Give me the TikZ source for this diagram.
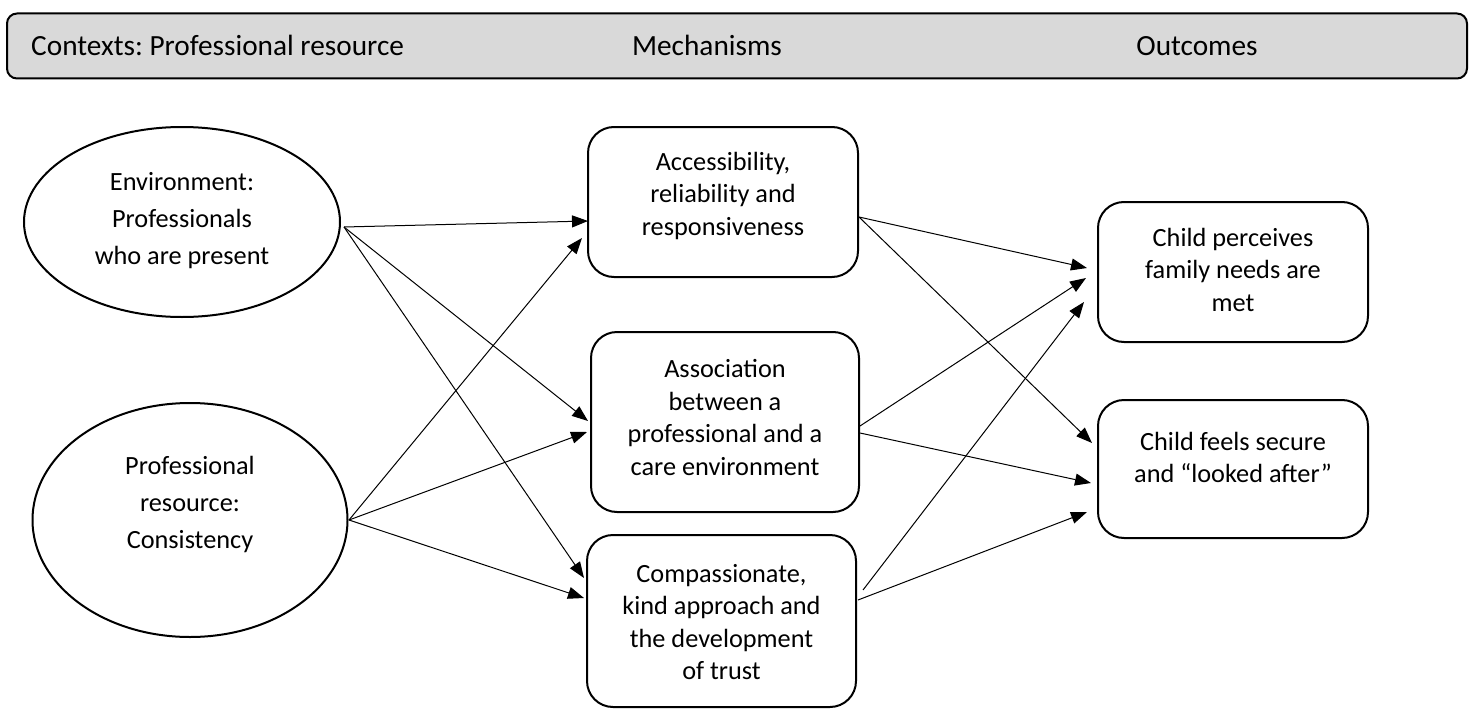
\documentclass[tikz,border=0pt]{standalone}
\usepackage{fontspec}
\setmainfont{Carlito}
\usetikzlibrary{arrows.meta,shapes.geometric,calc}
\definecolor{hdrgray}{HTML}{D9D9D9}
\frenchspacing
\begin{document}
\begin{tikzpicture}[x=1pt,y=-1pt,
  shapebox/.style={draw,line width=2pt,rounded corners=26pt,inner sep=0pt},
  oval/.style={draw,ellipse,line width=2pt,inner sep=0pt},
  txt/.style={align=center,font=\fontsize{26.3}{32.5}\selectfont,inner sep=0pt},
  ovtxt/.style={align=center,font=\fontsize{26.3}{37.3}\selectfont,inner sep=0pt},
  hdrtxt/.style={font=\fontsize{29.3}{35}\selectfont,inner sep=0pt,anchor=base},
  conn/.style={line width=1pt,-{Triangle[length=16pt,width=12pt]}}
]
\useasboundingbox (0,0) rectangle (1475,709);

% header bar
\node[draw,fill=hdrgray,rounded corners=10pt,line width=2pt,minimum width=1460pt,minimum height=65pt,inner sep=0pt] (hdr) at (737,46) {};
\node[hdrtxt,anchor=base west] (hctx) at (31,56) {Contexts: Professional resource};
\node[hdrtxt] (hmech) at (707,56) {Mechanisms};
\node[hdrtxt] (hout) at (1197,56) {Outcomes};

% contexts
\node[oval,minimum width=316pt,minimum height=190pt] (e1) at (182,222) {};
\node[ovtxt] (e1t) at (182,220.5) {Environment:\\Professionals\\who are present};
\node[oval,minimum width=315pt,minimum height=234pt] (e2) at (190,520) {};
\node[ovtxt] (e2t) at (190,504.5) {Professional\\resource:\\Consistency};

% mechanisms
\node[shapebox,minimum width=270pt,minimum height=150pt] (b1) at (723,202) {};
\node[txt] (b1t) at (723,195.5) {Accessibility,\\reliability and\\responsiveness};
\node[shapebox,minimum width=268pt,minimum height=180pt] (b2) at (725,422) {};
\node[txt] (b2t) at (725,417.5) {Association\\between a\\professional and a\\care environment};
\node[shapebox,minimum width=269pt,minimum height=172pt] (b3) at (721.5,621) {};
\node[txt] (b3t) at (721.5,622) {Compassionate,\\kind approach and\\the development\\of trust};

% outcomes
\node[shapebox,minimum width=270pt,minimum height=140pt] (oa) at (1233,272) {};
\node[txt] (oat) at (1233,269.5) {Child perceives\\family needs are\\met};
\node[shapebox,minimum width=270pt,minimum height=138pt] (ob) at (1233,469) {};
\node[txt] (obt) at (1233,457.5) {Child feels secure\\and “looked after”};

% connector end points
\coordinate (e1o) at ($(e1.east)+(3,5)$);
\coordinate (e2o) at ($(e2.east)+(0.5,0)$);
\coordinate (b1o) at ($(b1.east)+(0,15)$);
\coordinate (b2oa) at ($(b2.east)+(0,4)$);
\coordinate (b2ob) at ($(b2.east)+(0,11)$);
\coordinate (b3oa) at ($(b3.east)+(6,-31)$);
\coordinate (b3ob) at ($(b3.east)+(1,-21)$);
\coordinate (b1ia) at ($(b1.west)+(1,19)$);
\coordinate (b1ib) at ($(b1.west)+(-5,36)$);
\coordinate (b2ia) at ($(b2.west)+(-2,-1)$);
\coordinate (b2ib) at ($(b2.west)+(-3,10)$);
\coordinate (b3ia) at ($(b3.west)+(-2,-43)$);
\coordinate (b3ib) at ($(b3.west)+(-2,-23)$);
\coordinate (oaia) at ($(oa.west)+(-10,-4)$);
\coordinate (oaib) at ($(oa.west)+(-11,6)$);
\coordinate (oaic) at ($(oa.west)+(-13,30)$);
\coordinate (obia) at ($(ob.west)+(-5,-26)$);
\coordinate (obib) at ($(ob.west)+(-6,14)$);
\coordinate (obic) at ($(ob.west)+(-10,43)$);

% contexts -> mechanisms
\draw[conn] (e1o) -- (b1ia);
\draw[conn] (e1o) -- (b2ia);
\draw[conn] (e1o) -- (b3ia);
\draw[conn] (e2o) -- (b1ib);
\draw[conn] (e2o) -- (b2ib);
\draw[conn] (e2o) -- (b3ib);

% mechanisms -> outcomes
\draw[conn] (b1o) -- (oaia);
\draw[conn] (b1o) -- (obia);
\draw[conn] (b2oa) -- (oaib);
\draw[conn] (b2ob) -- (obib);
\draw[conn] (b3oa) -- (oaic);
\draw[conn] (b3ob) -- (obic);
\end{tikzpicture}
\end{document}
